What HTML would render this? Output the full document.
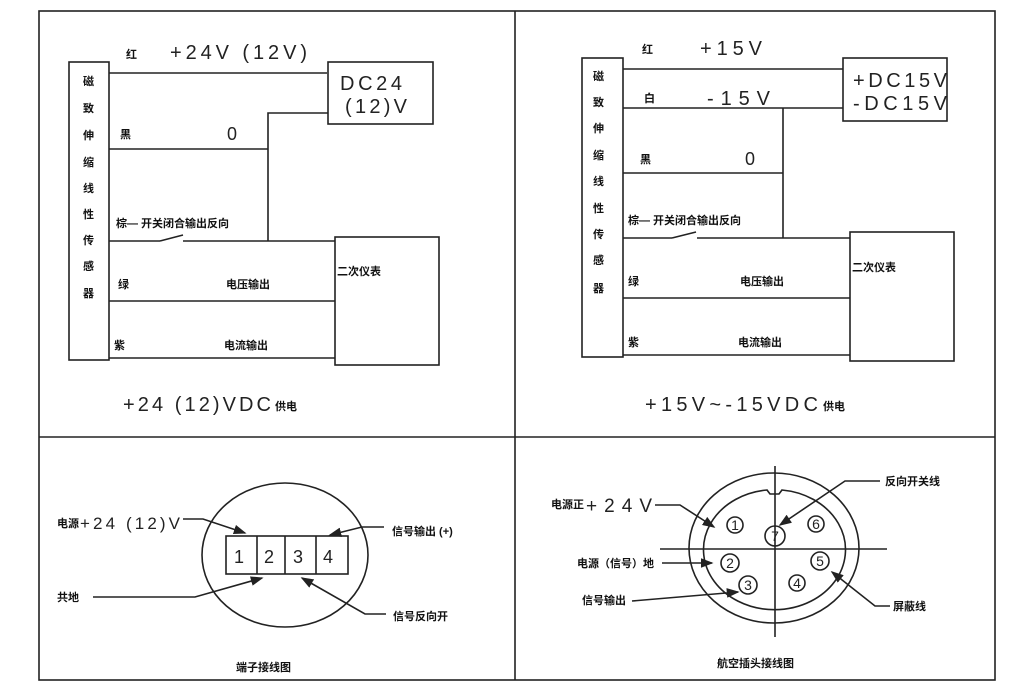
<!DOCTYPE html>
<html><head><meta charset="utf-8"><style>
html,body{margin:0;padding:0;background:#fff;}
svg{display:block;}
.l{stroke:#222;stroke-width:1.6;fill:none;}
.t{font-family:"Liberation Sans",sans-serif;fill:#222;}
.c{font-family:"Liberation Sans","Noto Sans CJK SC",sans-serif;fill:#111;font-weight:bold;font-size:11px;}
</style></head><body>
<svg width="1024" height="700" viewBox="0 0 1024 700" xmlns="http://www.w3.org/2000/svg">
<defs><marker id="a" markerWidth="8" markerHeight="6" refX="7" refY="3" orient="auto"><path d="M0,0 L8,3 L0,6 Z" fill="#222"/></marker></defs>
<rect x="39" y="11" width="956" height="669" class="l"/>
<line x1="39" y1="437" x2="995" y2="437" class="l"/>
<line x1="515" y1="11" x2="515" y2="680" class="l"/>

<!-- Panel 1 -->
<rect x="69" y="62" width="40" height="298" class="l"/>
<g class="c" font-size="12">
<text x="83" y="85">磁</text><text x="83" y="112">致</text><text x="83" y="139">伸</text><text x="83" y="166">缩</text><text x="83" y="192">线</text><text x="83" y="218">性</text><text x="83" y="244">传</text><text x="83" y="270">感</text><text x="83" y="297">器</text>
</g>
<text class="c" x="126" y="58">红</text>
<text class="t" x="170" y="59" font-size="20" textLength="137" lengthAdjust="spacing">+24V (12V)</text>
<line x1="109" y1="73" x2="327" y2="73" class="l"/>
<rect x="328" y="62" width="105" height="62" class="l"/>
<text class="t" x="340" y="90" font-size="20" textLength="62" lengthAdjust="spacing">DC24</text>
<text class="t" x="345" y="113" font-size="20" textLength="62" lengthAdjust="spacing">(12)V</text>
<polyline points="328,113 268,113 268,241" class="l"/>
<text class="c" x="120" y="138">黑</text>
<text class="t" x="227" y="140" font-size="18">0</text>
<line x1="109" y1="149" x2="268" y2="149" class="l"/>
<text class="c" x="116" y="227">棕— 开关闭合输出反向</text>
<polyline points="109,241 160,241" class="l"/>
<line x1="160" y1="241" x2="183" y2="235" class="l"/>
<line x1="183" y1="241" x2="335" y2="241" class="l"/>
<rect x="335" y="237" width="104" height="128" class="l"/>
<text class="c" x="337" y="275">二次仪表</text>
<text class="c" x="118" y="288">绿</text>
<text class="c" x="226" y="288">电压输出</text>
<line x1="109" y1="301" x2="335" y2="301" class="l"/>
<text class="c" x="114" y="349">紫</text>
<text class="c" x="224" y="349">电流输出</text>
<line x1="109" y1="358" x2="335" y2="358" class="l"/>
<text class="t" x="123" y="411" font-size="20" textLength="148" lengthAdjust="spacing">+24 (12)VDC</text>
<text class="c" x="275" y="410">供电</text>

<!-- Panel 2 -->
<rect x="582" y="58" width="41" height="299" class="l"/>
<g class="c" font-size="12">
<text x="593" y="80">磁</text><text x="593" y="106">致</text><text x="593" y="132">伸</text><text x="593" y="159">缩</text><text x="593" y="185">线</text><text x="593" y="212">性</text><text x="593" y="238">传</text><text x="593" y="264">感</text><text x="593" y="292">器</text>
</g>
<text class="c" x="642" y="53">红</text>
<text class="t" x="700" y="55" font-size="20" textLength="62" lengthAdjust="spacing">+15V</text>
<line x1="623" y1="69" x2="843" y2="69" class="l"/>
<rect x="843" y="58" width="104" height="63" class="l"/>
<text class="t" x="853" y="87" font-size="20" textLength="94" lengthAdjust="spacing">+DC15V</text>
<text class="t" x="853" y="110" font-size="20" textLength="94" lengthAdjust="spacing">-DC15V</text>
<text class="c" x="644" y="102">白</text>
<text class="t" x="707" y="105" font-size="20" textLength="63" lengthAdjust="spacing">-15V</text>
<line x1="623" y1="108" x2="843" y2="108" class="l"/>
<line x1="783" y1="108" x2="783" y2="238" class="l"/>
<text class="c" x="640" y="163">黑</text>
<text class="t" x="745" y="165" font-size="18">0</text>
<line x1="623" y1="173" x2="783" y2="173" class="l"/>
<text class="c" x="628" y="224">棕— 开关闭合输出反向</text>
<line x1="623" y1="238" x2="672" y2="238" class="l"/>
<line x1="672" y1="238" x2="696" y2="232" class="l"/>
<line x1="697" y1="238" x2="850" y2="238" class="l"/>
<rect x="850" y="232" width="104" height="129" class="l"/>
<text class="c" x="852" y="271">二次仪表</text>
<text class="c" x="628" y="285">绿</text>
<text class="c" x="740" y="285">电压输出</text>
<line x1="623" y1="298" x2="850" y2="298" class="l"/>
<text class="c" x="628" y="346">紫</text>
<text class="c" x="738" y="346">电流输出</text>
<line x1="623" y1="355" x2="850" y2="355" class="l"/>
<text class="t" x="645" y="411" font-size="20" textLength="173" lengthAdjust="spacing">+15V~-15VDC</text>
<text class="c" x="823" y="410">供电</text>

<!-- Bottom left -->
<ellipse cx="285" cy="555" rx="83" ry="72" class="l"/>
<rect x="226" y="536" width="122" height="38" class="l" fill="#fff"/>
<line x1="257" y1="536" x2="257" y2="574" class="l"/>
<line x1="285" y1="536" x2="285" y2="574" class="l"/>
<line x1="316" y1="536" x2="316" y2="574" class="l"/>
<g class="t" font-size="18"><text x="234" y="563">1</text><text x="264" y="563">2</text><text x="293" y="563">3</text><text x="323" y="563">4</text></g>
<text class="c" x="57" y="527">电源</text>
<text class="t" x="80" y="529" font-size="17" textLength="100" lengthAdjust="spacing">+24 (12)V</text>
<polyline points="183,519 203,519 245,533" class="l" marker-end="url(#a)"/>
<text class="c" x="392" y="535">信号输出 (+)</text>
<polyline points="384,527 362,527 330,535" class="l" marker-end="url(#a)"/>
<text class="c" x="57" y="601">共地</text>
<polyline points="93,597 195,597 262,578" class="l" marker-end="url(#a)"/>
<text class="c" x="393" y="620">信号反向开</text>
<polyline points="386,614 365,614 302,578" class="l" marker-end="url(#a)"/>
<text class="c" x="236" y="671" font-size="12">端子接线图</text>

<!-- Bottom right -->
<ellipse cx="774" cy="548" rx="85" ry="75" class="l"/>
<path d="M767,490 A71,60 0 1 0 782,490 L779,494 L770,494 Z" class="l"/>
<line x1="660" y1="549" x2="887" y2="549" class="l"/>
<line x1="775" y1="466" x2="775" y2="637" class="l"/>
<g class="t" font-size="14" text-anchor="middle">
<circle cx="735" cy="525" r="8" class="l"/><text x="735" y="530">1</text>
<circle cx="775" cy="536" r="10" class="l" fill="#fff"/><text x="775" y="541">7</text>
<circle cx="816" cy="524" r="8" class="l"/><text x="816" y="529">6</text>
<circle cx="730" cy="563" r="9" class="l"/><text x="730" y="568">2</text>
<circle cx="820" cy="561" r="9" class="l"/><text x="820" y="566">5</text>
<circle cx="748" cy="585" r="9" class="l"/><text x="748" y="590">3</text>
<circle cx="797" cy="583" r="8" class="l"/><text x="797" y="588">4</text>
</g>
<text class="c" x="551" y="508">电源正</text>
<text class="t" x="586" y="512" font-size="19" textLength="66" lengthAdjust="spacing">+24V</text>
<polyline points="655,505 680,505 714,527" class="l" marker-end="url(#a)"/>
<text class="c" x="577" y="567">电源（信号）地</text>
<line x1="662" y1="563" x2="712" y2="563" class="l" marker-end="url(#a)"/>
<text class="c" x="582" y="604">信号输出</text>
<line x1="632" y1="601" x2="738" y2="592" class="l" marker-end="url(#a)"/>
<text class="c" x="885" y="485">反向开关线</text>
<polyline points="880,481 845,481 780,525" class="l" marker-end="url(#a)"/>
<text class="c" x="893" y="610">屏蔽线</text>
<polyline points="890,606 875,606 832,572" class="l" marker-end="url(#a)"/>
<text class="c" x="717" y="667" font-size="12">航空插头接线图</text>
</svg>
</body></html>
